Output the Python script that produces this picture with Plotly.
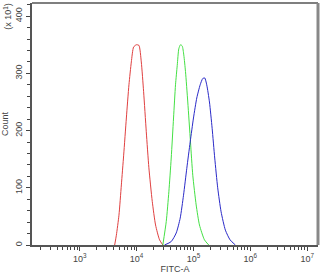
import plotly.graph_objects as go

# FITC-A values and counts (counts in units of 10^1)
red_x = [4110, 4400, 4890, 5390, 5920, 6600, 7330, 8070, 8850, 9880, 10970,
         12080, 13270, 14790, 16430, 18850, 21520, 25330, 28920]
red_y = [0, 17, 52, 105, 157, 222, 280, 320, 346, 350, 349,
         320, 268, 198, 135, 76, 35, 9, 0]

green_x = [28900, 33200, 36900, 40600, 44600, 48300, 51800, 55200, 59100, 63300,
           67600, 72400, 79400, 88600, 97200, 111500, 127400, 156000, 185500]
green_y = [0, 41, 93, 152, 222, 280, 314, 343, 350, 348,
           332, 303, 250, 180, 122, 70, 35, 9, 0]

blue_x = [31000, 40600, 49700, 58400, 66800, 76300, 87500, 100000, 114300, 131200,
          145600, 157800, 171000, 190900, 212800, 236500, 266700, 306000, 364000,
          440300, 545600]
blue_y = [0, 6, 21, 47, 87, 134, 180, 222, 257, 280,
          291, 292, 280, 250, 204, 152, 100, 58, 26, 9, 0]

x_ticks = [1e3, 1e4, 1e5, 1e6, 1e7]
x_labels = ["10<sup>3</sup>", "10<sup>4</sup>", "10<sup>5</sup>", "10<sup>6</sup>", "10<sup>7</sup>"]
y_ticks = [0, 100, 200, 300, 400]
y_labels = ["0", "100", "200", "300", "400"]

fig = go.Figure()
for xs, ys, col in [(red_x, red_y, "#e04040"), (green_x, green_y, "#44e044"),
                    (blue_x, blue_y, "#2a2ac8")]:
    fig.add_trace(go.Scatter(x=xs, y=ys, mode="lines",
                             line=dict(color=col, width=1, shape="spline", smoothing=0.6),
                             showlegend=False, hoverinfo="skip"))

font = dict(family="Liberation Sans, Arial, sans-serif", size=9, color="#444444")

fig.update_layout(
    width=323, height=275,
    margin=dict(l=32, r=5, t=3, b=30),
    paper_bgcolor="white", plot_bgcolor="white",
    font=font,
    xaxis=dict(type="log", range=[2.16, 7.19], tickvals=x_ticks, ticktext=x_labels,
               ticks="outside", ticklen=4, tickwidth=1, tickcolor="#444444",
               showgrid=False, zeroline=False, showline=True, linecolor="#555555",
               linewidth=2, tickfont=font,
               minor=dict(ticks="outside", ticklen=3, tickcolor="#444444", dtick="D1",
                          showgrid=False),
               title=dict(text="FITC-A", font=font, standoff=2)),
    yaxis=dict(range=[0, 423], tickvals=y_ticks, ticktext=y_labels, tickangle=-90,
               ticks="outside", ticklen=4, tickwidth=1, tickcolor="#444444",
               showgrid=False, zeroline=False, showline=True, linecolor="#555555",
               linewidth=2, tickfont=font,
               minor=dict(ticks="outside", ticklen=3, tickcolor="#444444", dtick=20,
                          showgrid=False),
               title=dict(text="Count", font=font, standoff=4)),
    shapes=[
        dict(type="line", xref="paper", yref="paper", x0=0, x1=1, y0=1, y1=1,
             line=dict(color="#555555", width=1.5)),
        dict(type="line", xref="paper", yref="paper", x0=1, x1=1, y0=0, y1=1,
             line=dict(color="#888888", width=3)),
    ],
    annotations=[
        dict(text="(x 10<sup>1</sup>)", xref="paper", yref="paper", x=-0.085, y=1.01,
             xanchor="center", yanchor="top", textangle=-90, showarrow=False, font=font),
    ],
)

fig.write_html("out.html")
